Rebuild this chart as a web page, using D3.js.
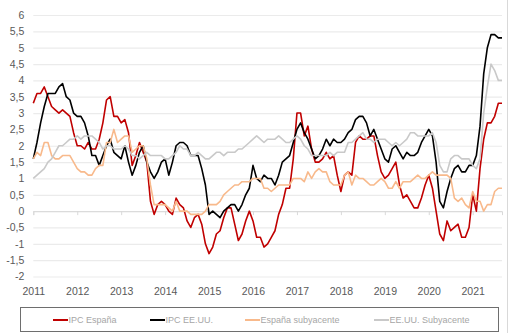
<!DOCTYPE html>
<html lang="es">
<head>
<meta charset="UTF-8">
<title>IPC España vs EE.UU.</title>
<script src="https://d3js.org/d3.v7.min.js"></script>
<style>
  body { margin: 0; background: #fff; font-family: "Liberation Sans", Arial, sans-serif; }
  svg { display: block; }
  .lbl { font-size: 10.5px; fill: #595959; }
  .leg { font-size: 9px; fill: #a6a6a6; }
</style>
</head>
<body>
<svg width="511" height="333"></svg>
<script>
// monthly year-on-year rates, Jan 2011 .. Sep 2021
const years = ["2011","2012","2013","2014","2015","2016","2017","2018","2019","2020","2021"];
const ipcEspana = [
  3.3,3.6,3.6,3.8,3.5,3.2,3.1,3.0,3.1,3.0,2.9,2.4,
  2.0,2.0,1.9,2.1,1.9,1.9,2.2,2.7,3.4,3.5,2.9,2.9,
  2.7,2.8,2.4,1.4,1.7,2.1,1.8,1.5,0.3,-0.1,0.2,0.3,
  0.2,0.0,-0.1,0.4,0.2,0.1,-0.3,-0.5,-0.2,-0.1,-0.4,-1.0,
  -1.3,-1.1,-0.7,-0.6,-0.2,0.1,0.1,-0.4,-0.9,-0.7,-0.3,0.0,
  -0.3,-0.8,-0.8,-1.1,-1.0,-0.8,-0.6,-0.1,0.2,0.7,0.7,1.6,
  3.0,3.0,2.3,2.6,1.9,1.5,1.5,1.6,1.8,1.6,1.7,1.1,
  0.6,1.1,1.2,1.1,2.1,2.3,2.2,2.2,2.3,2.3,1.7,1.2,
  1.0,1.1,1.3,1.5,0.8,0.4,0.5,0.3,0.1,0.1,0.4,0.8,
  1.1,0.7,0.0,-0.7,-0.9,-0.3,-0.6,-0.5,-0.4,-0.8,-0.8,-0.5,
  0.5,0.0,1.3,2.2,2.7,2.7,2.9,3.3,3.3
];
const ipcEEUU = [
  1.6,2.1,2.7,3.2,3.6,3.6,3.6,3.8,3.9,3.5,3.4,3.0,
  2.9,2.9,2.7,2.3,1.7,1.7,1.4,1.7,2.0,2.2,1.8,1.7,
  1.6,2.0,1.5,1.1,1.4,1.8,2.0,1.5,1.2,1.0,1.2,1.5,
  1.6,1.1,1.5,2.0,2.1,2.1,2.0,1.7,1.7,1.7,1.3,0.8,
  -0.1,0.0,-0.1,-0.2,0.0,0.1,0.2,0.2,0.0,0.2,0.5,0.7,
  1.4,1.0,0.9,1.1,1.0,1.0,0.8,1.1,1.5,1.6,1.7,2.1,
  2.5,2.7,2.4,2.2,1.9,1.6,1.7,1.9,2.2,2.0,2.2,2.1,
  2.1,2.2,2.4,2.5,2.8,2.9,2.9,2.7,2.3,2.5,2.2,1.9,
  1.6,1.5,1.9,2.0,1.8,1.6,1.8,1.7,1.7,1.8,2.1,2.3,
  2.5,2.3,1.5,0.3,0.1,0.6,1.0,1.3,1.4,1.2,1.2,1.4,
  1.4,1.7,2.6,4.2,5.0,5.4,5.4,5.3,5.3
];
const espanaSub = [
  1.6,1.8,1.7,2.1,2.1,1.7,1.6,1.6,1.7,1.7,1.7,1.5,
  1.3,1.2,1.2,1.1,1.1,1.3,1.4,1.4,2.1,2.1,2.5,2.1,
  2.2,2.3,2.3,1.8,1.9,2.0,2.0,1.6,0.8,0.2,0.2,0.2,
  0.2,0.1,0.0,0.3,0.0,0.0,0.0,-0.1,-0.1,-0.1,-0.1,0.0,
  0.2,0.2,0.2,0.3,0.5,0.6,0.7,0.8,0.8,0.9,0.9,0.9,
  1.0,1.0,1.0,0.7,0.7,0.6,0.7,0.8,0.8,0.8,0.8,1.0,
  1.0,1.0,0.9,1.2,1.0,1.2,1.3,1.2,1.2,0.9,0.8,0.8,
  0.8,1.1,1.2,0.8,1.1,1.0,1.0,0.9,0.8,0.8,0.9,1.0,
  0.9,0.7,0.7,0.9,0.7,0.9,0.9,0.9,1.0,1.1,1.0,1.0,
  1.1,1.2,1.1,1.1,1.1,1.1,1.0,0.4,0.3,0.4,0.2,0.1,
  0.6,0.3,0.3,0.0,0.2,0.2,0.6,0.7,0.7
];
const eeuuSub = [
  1.0,1.1,1.2,1.3,1.5,1.6,1.8,2.0,2.0,2.1,2.2,2.2,
  2.3,2.2,2.3,2.3,2.3,2.2,2.1,1.9,2.0,2.0,1.9,1.9,
  1.9,2.0,1.9,1.7,1.7,1.6,1.7,1.8,1.7,1.7,1.7,1.7,
  1.6,1.6,1.7,1.8,2.0,1.9,1.9,1.7,1.7,1.8,1.7,1.6,
  1.6,1.7,1.8,1.8,1.7,1.8,1.8,1.8,1.9,1.9,2.0,2.1,
  2.2,2.3,2.2,2.1,2.2,2.2,2.2,2.3,2.2,2.1,2.1,2.2,
  2.3,2.2,2.0,1.9,1.7,1.7,1.7,1.7,1.7,1.8,1.7,1.8,
  1.8,1.8,2.1,2.1,2.2,2.3,2.4,2.2,2.2,2.1,2.2,2.2,
  2.2,2.1,2.0,2.1,2.0,2.1,2.2,2.4,2.4,2.3,2.3,2.3,
  2.3,2.4,2.1,1.4,1.2,1.2,1.6,1.7,1.7,1.6,1.6,1.6,
  1.4,1.3,1.6,3.0,3.8,4.5,4.3,4.0,4.0
];
const yTicks = d3.range(-2, 6.001, 0.5);

const series = [
  { name: "IPC España", values: ipcEspana, color: "#c00000" },
  { name: "IPC EE.UU.", values: ipcEEUU, color: "#000000" },
  { name: "España subyacente", values: espanaSub, color: "#f8b98b" },
  { name: "EE.UU. Subyacente", values: eeuuSub, color: "#c9c9c9" }
];

const svg = d3.select("svg");
const x = d3.scaleLinear().domain([0, ipcEspana.length - 1]).range([33.3, 502]);
const y = d3.scaleLinear().domain([-2, 6]).range([276.5, 15]);
const fmt = d => String(d).replace(".", ",");

// chart frame (right edge visible)
svg.append("line").attr("x1", 507.5).attr("x2", 507.5).attr("y1", 0).attr("y2", 333)
  .attr("stroke", "#d9d9d9");

// horizontal gridlines + y labels
const yAxis = svg.append("g").attr("transform", `translate(${x.range()[0]},0)`)
  .call(d3.axisLeft(y).tickValues(yTicks).tickSize(-(x.range()[1] - x.range()[0])).tickFormat(fmt));
yAxis.select(".domain").remove();
yAxis.selectAll(".tick line").attr("stroke", "#ebebeb").attr("stroke-width", 1.2);
yAxis.selectAll(".tick text").attr("class", "lbl").attr("x", -9).attr("font-size", null).attr("font-family", null);

// tick marks on the zero line
const yearIdx = years.map((d, i) => i * 12);
const xTicks = svg.append("g").attr("transform", `translate(0,${y(0)})`)
  .call(d3.axisBottom(x).tickValues(yearIdx).tickSize(4).tickFormat(""));
xTicks.select(".domain").attr("stroke", "#d9d9d9");
xTicks.selectAll(".tick line").attr("stroke", "#d9d9d9");

// year labels at the bottom
const xLab = svg.append("g").attr("transform", `translate(0,285)`)
  .call(d3.axisBottom(x).tickValues(yearIdx).tickSize(0).tickFormat((d, i) => years[i]));
xLab.select(".domain").remove();
xLab.selectAll(".tick text").attr("class", "lbl").attr("font-size", null).attr("font-family", null);

// series lines
const line = d3.line().x((d, i) => x(i)).y(d => y(d));
svg.append("g").selectAll("path").data(series).join("path")
  .attr("d", d => line(d.values))
  .attr("fill", "none")
  .attr("stroke", d => d.color)
  .attr("stroke-width", 1.6)
  .attr("stroke-linejoin", "round");

// legend
svg.append("rect").attr("x", 20.5).attr("y", 307.5).attr("width", 478).attr("height", 24)
  .attr("fill", "#fff").attr("stroke", "#6e6e6e");
const legX = [53, 150, 245, 374];
const leg = svg.append("g").selectAll("g").data(series).join("g")
  .attr("transform", (d, i) => `translate(${legX[i]},320)`);
leg.append("line").attr("x1", 0).attr("x2", 15).attr("stroke", d => d.color).attr("stroke-width", 2);
leg.append("text").attr("class", "leg").attr("x", 15.5).attr("dy", "0.35em").text(d => d.name);
</script>
</body>
</html>
